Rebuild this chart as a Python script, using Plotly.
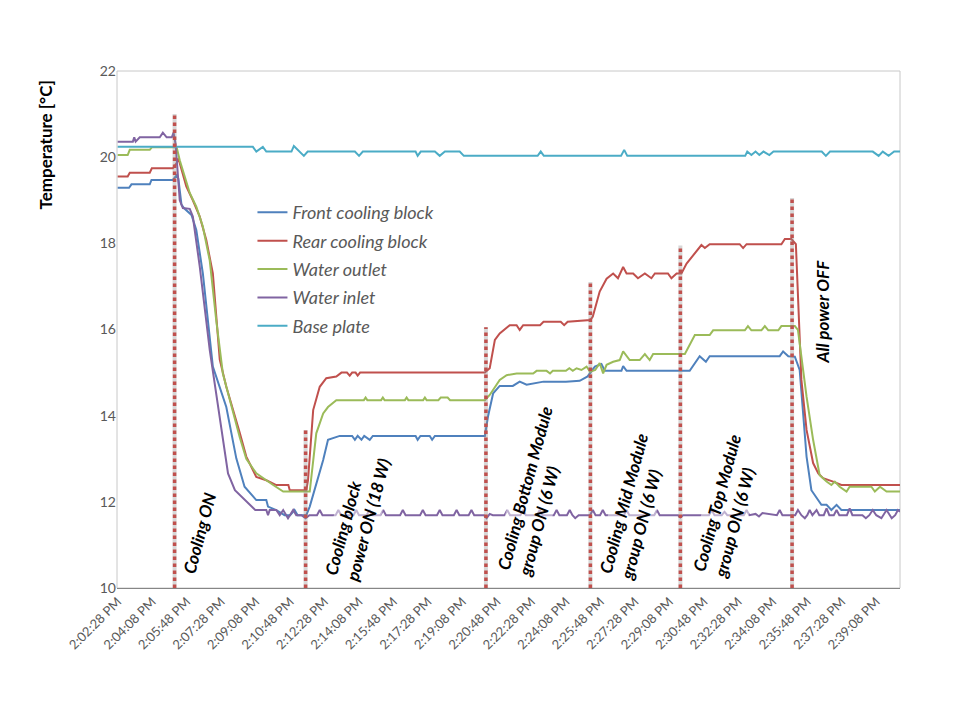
import plotly.graph_objects as go
from datetime import datetime, timedelta

# start of the log, every time below is seconds after this
BASE = datetime(2013, 1, 1, 14, 2, 28)

# Front cooling block
front_s = [0, 33, 40, 93, 98, 160, 171, 176, 185, 192, 214, 228, 247, 276, 315, 344, 368, 402, 431, 436,
           460, 484, 500, 513, 522, 547, 557, 576, 596, 610, 624, 644, 680, 688, 696, 707, 715, 731, 740,
           864, 870, 878, 905, 912, 920, 1065, 1074, 1089, 1108, 1146, 1166, 1186, 1235, 1300, 1340, 1363,
           1384, 1403, 1413, 1461, 1466, 1476, 1659, 1688, 1706, 1717, 1920, 1930, 1945, 1964, 1978, 1988,
           1998, 2012, 2027, 2041, 2056, 2070, 2085, 2099, 2269]
front_v = [19.29, 19.29, 19.37, 19.37, 19.47, 19.47, 19.58, 19.5, 18.9, 18.82, 18.66, 18.31, 17.3, 15.14, 14.2,
           13.01, 12.35, 12.04, 12.04, 11.89, 11.81, 11.69, 11.69, 11.81, 11.69, 11.69, 11.89, 12.43, 12.97,
           13.44, 13.48, 13.53, 13.53, 13.44, 13.53, 13.44, 13.53, 13.44, 13.53, 13.53, 13.44, 13.53, 13.53,
           13.44, 13.53, 13.53, 13.98, 14.52, 14.69, 14.69, 14.79, 14.72, 14.79, 14.79, 14.81, 14.91, 15.14,
           15.2, 15.04, 15.04, 15.15, 15.04, 15.04, 15.38, 15.25, 15.38, 15.38, 15.49, 15.38, 15.37, 15.06,
           14.05, 13.05, 12.27, 12.08, 11.93, 11.93, 11.81, 11.93, 11.81, 11.81]

# Rear cooling block
rear_s = [0, 29, 35, 93, 99, 160, 171, 176, 180, 199, 218, 238, 257, 276, 296, 315, 354, 373, 402, 431, 460,
          495, 499, 547, 552, 567, 586, 605, 634, 649, 665, 673, 680, 690, 696, 703, 1065, 1079, 1094, 1108,
          1137, 1157, 1166, 1176, 1225, 1235, 1285, 1295, 1305, 1371, 1378, 1398, 1418, 1437, 1451, 1466,
          1476, 1495, 1509, 1529, 1548, 1558, 1596, 1606, 1621, 1635, 1650, 1693, 1703, 1717, 1804, 1814,
          1824, 1925, 1935, 1954, 1967, 1983, 1998, 2017, 2032, 2046, 2075, 2099, 2269]
rear_v = [19.55, 19.55, 19.64, 19.64, 19.74, 19.74, 19.86, 19.97, 19.86, 19.32, 19.0, 18.62, 18.08, 17.3, 15.3,
          14.67, 13.6, 13.05, 12.58, 12.5, 12.39, 12.39, 12.27, 12.27, 12.5, 14.13, 14.67, 14.87, 14.91, 15.0,
          15.0, 14.93, 15.0, 15.0, 14.93, 15.0, 15.0, 15.1, 15.76, 15.91, 16.1, 16.1, 15.99, 16.1, 16.1, 16.18,
          16.18, 16.1, 16.18, 16.22, 16.3, 16.88, 17.18, 17.3, 17.19, 17.45, 17.3, 17.3, 17.19, 17.3, 17.19,
          17.3, 17.3, 17.19, 17.3, 17.3, 17.53, 17.96, 17.89, 17.98, 17.98, 17.89, 17.98, 17.98, 18.1, 18.1,
          17.98, 14.83, 13.67, 12.9, 12.66, 12.55, 12.47, 12.39, 12.39]

# Water outlet
outlet_s = [0, 29, 35, 93, 99, 171, 180, 209, 228, 247, 267, 286, 305, 354, 373, 402, 451, 480, 557, 576, 596,
            610, 634, 714, 719, 724, 764, 769, 774, 833, 838, 843, 886, 891, 896, 930, 937, 957, 964, 1065,
            1079, 1108, 1128, 1157, 1205, 1215, 1244, 1254, 1262, 1300, 1310, 1320, 1331, 1345, 1360, 1370,
            1385, 1398, 1408, 1418, 1437, 1456, 1466, 1485, 1514, 1529, 1543, 1553, 1645, 1674, 1717, 1727,
            1819, 1828, 1838, 1867, 1877, 1887, 1916, 1925, 1964, 1973, 1998, 2017, 2036, 2056, 2070, 2080,
            2094, 2114, 2123, 2186, 2196, 2211, 2230, 2269]
outlet_v = [20.05, 20.05, 20.17, 20.17, 20.23, 20.23, 19.93, 19.17, 18.85, 18.39, 17.6, 16.2, 14.98, 13.5, 13.0,
            12.66, 12.39, 12.24, 12.24, 13.59, 14.05, 14.2, 14.36, 14.36, 14.42, 14.36, 14.36, 14.42, 14.36,
            14.36, 14.42, 14.36, 14.36, 14.42, 14.36, 14.36, 14.42, 14.42, 14.36, 14.36, 14.48, 14.83, 14.94,
            14.98, 14.98, 15.04, 15.04, 14.98, 15.04, 15.04, 15.1, 15.04, 15.1, 15.06, 15.14, 15.02, 15.06,
            15.22, 14.98, 15.18, 15.25, 15.29, 15.49, 15.29, 15.29, 15.43, 15.29, 15.43, 15.43, 15.87, 15.87,
            15.98, 15.98, 16.08, 15.98, 15.98, 16.08, 15.98, 15.98, 16.08, 16.08, 15.99, 14.44, 13.44, 12.62,
            12.47, 12.39, 12.47, 12.35, 12.24, 12.35, 12.35, 12.24, 12.35, 12.24, 12.24]

# Water inlet
inlet_s = [0, 44, 48, 52, 64, 122, 131, 142, 157, 162, 168, 180, 189, 209, 218, 238, 267, 296, 320, 340, 373,
           399, 431, 436, 441, 460, 470, 480, 494, 509, 518, 533, 545, 556, 578, 586, 594, 632, 640, 648, 684,
           692, 700, 722, 730, 738, 762, 770, 778, 819, 827, 835, 877, 885, 893, 926, 934, 942, 975, 983, 991,
           1018, 1026, 1034, 1062, 1070, 1079, 1088, 1122, 1130, 1138, 1168, 1176, 1184, 1216, 1224, 1232,
           1265, 1273, 1281, 1303, 1311, 1319, 1327, 1337, 1370, 1378, 1386, 1399, 1407, 1415, 1468, 1476,
           1484, 1556, 1564, 1572, 1625, 1632, 1640, 1715, 1723, 1731, 1752, 1760, 1768, 1816, 1824, 1832,
           1850, 1860, 1870, 1912, 1920, 1928, 1965, 1973, 1983, 1993, 2000, 2007, 2015, 2027, 2035, 2048,
           2056, 2064, 2077, 2085, 2093, 2115, 2123, 2131, 2160, 2170, 2180, 2190, 2200, 2215, 2230, 2245,
           2255, 2263, 2269]
inlet_v = [20.36, 20.36, 20.46, 20.36, 20.46, 20.46, 20.57, 20.46, 20.46, 20.57, 20.3, 19.0, 18.82, 18.8, 18.62,
           17.46, 15.52, 13.9, 12.66, 12.27, 12.02, 11.81, 11.81, 11.69, 11.81, 11.81, 11.69, 11.81, 11.62,
           11.81, 11.69, 11.69, 11.62, 11.69, 11.69, 11.81, 11.69, 11.69, 11.81, 11.69, 11.69, 11.81, 11.69,
           11.69, 11.81, 11.69, 11.69, 11.81, 11.69, 11.69, 11.81, 11.69, 11.69, 11.81, 11.69, 11.69, 11.81,
           11.69, 11.69, 11.81, 11.69, 11.69, 11.81, 11.69, 11.69, 11.62, 11.72, 11.69, 11.69, 11.81, 11.69,
           11.69, 11.81, 11.69, 11.69, 11.81, 11.69, 11.69, 11.81, 11.69, 11.69, 11.81, 11.69, 11.62, 11.69,
           11.69, 11.81, 11.69, 11.69, 11.81, 11.69, 11.69, 11.81, 11.69, 11.69, 11.81, 11.69, 11.69, 11.64,
           11.69, 11.69, 11.81, 11.69, 11.69, 11.77, 11.69, 11.69, 11.81, 11.69, 11.72, 11.66, 11.74, 11.69,
           11.81, 11.69, 11.69, 11.81, 11.69, 11.62, 11.69, 11.81, 11.69, 11.81, 11.69, 11.69, 11.85, 11.69,
           11.69, 11.81, 11.69, 11.69, 11.85, 11.69, 11.69, 11.62, 11.69, 11.81, 11.69, 11.62, 11.81, 11.62,
           11.69, 11.81, 11.77]

# Base plate
base_s = [0, 392, 402, 421, 431, 504, 511, 528, 540, 551, 688, 700, 711, 864, 870, 879, 920, 934, 949, 992,
          1004, 1218, 1227, 1236, 1460, 1469, 1478, 1820, 1826, 1838, 1850, 1861, 1873, 1890, 1902, 2042,
          2054, 2066, 2190, 2207, 2219, 2236, 2252, 2269]
base_v = [20.24, 20.24, 20.13, 20.24, 20.13, 20.13, 20.26, 20.13, 20.03, 20.13, 20.13, 20.03, 20.13, 20.13,
          20.03, 20.13, 20.13, 20.03, 20.13, 20.13, 20.03, 20.03, 20.13, 20.03, 20.03, 20.17, 20.03, 20.03,
          20.13, 20.05, 20.13, 20.05, 20.13, 20.05, 20.13, 20.13, 20.03, 20.13, 20.13, 20.03, 20.13, 20.03,
          20.13, 20.13]

# events (dotted markers) and their labels
event_s = [165, 545, 1068, 1371, 1632, 1956]
event_top = [21.0, 13.67, 16.05, 17.1, 17.95, 19.05]
label_text = ["Cooling ON",
              "Cooling block<br>power ON (18 W)",
              "Cooling Bottom Module<br>group ON (6 W)",
              "Cooling Mid Module<br>group ON (6 W)",
              "Cooling Top Module<br>group ON (6 W)",
              "All power OFF"]
label_s = [238, 696, 1210, 1497, 1767, 2045]
label_y = [11.28, 11.65, 12.25, 11.9, 11.9, 16.41]
label_angle = [-75, -75, -75, -75, -75, -90]


def to_time(seconds):
    return [BASE + timedelta(seconds=s) for s in seconds]


series = [
    ("Front cooling block", front_s, front_v, "#4F81BD"),
    ("Rear cooling block", rear_s, rear_v, "#C0504D"),
    ("Water outlet", outlet_s, outlet_v, "#9BBB59"),
    ("Water inlet", inlet_s, inlet_v, "#8064A2"),
    ("Base plate", base_s, base_v, "#4BACC6"),
]

fig = go.Figure()
for i, (name, s, v, col) in enumerate(series):
    fig.add_trace(go.Scatter(x=to_time(s), y=v, mode="lines", name=name, legendgroup=str(i),
                             line=dict(color=col, width=2)))

# dotted event lines, a faint grey line under each one
for s, top in zip(event_s, event_top):
    xs = to_time([s, s])
    fig.add_trace(go.Scatter(x=xs, y=[10, top], mode="lines", showlegend=False, hoverinfo="skip",
                             line=dict(color="rgba(140,140,140,0.35)", width=4)))
    fig.add_trace(go.Scatter(x=xs, y=[10, top], mode="lines", showlegend=False, hoverinfo="skip",
                             line=dict(color="#C0504D", width=3.5, dash="dot")))

for txt, s, y, ang in zip(label_text, label_s, label_y, label_angle):
    fig.add_annotation(x=BASE + timedelta(seconds=s), y=y, text="<b><i>" + txt + "</i></b>",
                       textangle=ang, showarrow=False, align="left",
                       bgcolor="rgba(255,255,255,0.5)",
                       font=dict(family="Lato", size=17, color="black"))

fig.add_annotation(xref="paper", yref="paper", x=-0.092, y=0.858, xanchor="center", yanchor="middle",
                   text="<b>Temperature [°C]</b>", textangle=-90, showarrow=False,
                   font=dict(family="Lato", size=17, color="black"))

fig.add_shape(type="rect", xref="paper", yref="paper", x0=0, x1=1, y0=0, y1=1,
              line=dict(color="#C8C8C8", width=1), layer="below")

# the page puts the chart 8 px in from the corner, so the margins allow for that
fig.update_layout(
    width=952, height=712,
    margin=dict(l=109, r=60, t=63, b=132),
    paper_bgcolor="white", plot_bgcolor="white",
    font=dict(family="Lato", color="#595959"),
    showlegend=True,
    legend=dict(x=0.173, y=0.762, xanchor="left", yanchor="top", bgcolor="rgba(0,0,0,0)",
                font=dict(family="Lato", size=18, color="#595959", style="italic"),
                traceorder="grouped", tracegroupgap=2),
    xaxis=dict(type="date", range=[BASE - timedelta(seconds=2), BASE + timedelta(seconds=2269)],
               tick0=BASE, dtick=100000, tickformat="%-I:%M:%S %p", tickangle=-45,
               showgrid=False, zeroline=False, showline=True, linecolor="#868686", linewidth=1,
               tickfont=dict(family="Lato", size=13, color="#595959")),
    yaxis=dict(range=[10, 22], dtick=2, showgrid=False, zeroline=False, showline=False,
               ticks="", tickfont=dict(family="Lato", size=14, color="#595959")),
)

fig.write_html("out.html")
